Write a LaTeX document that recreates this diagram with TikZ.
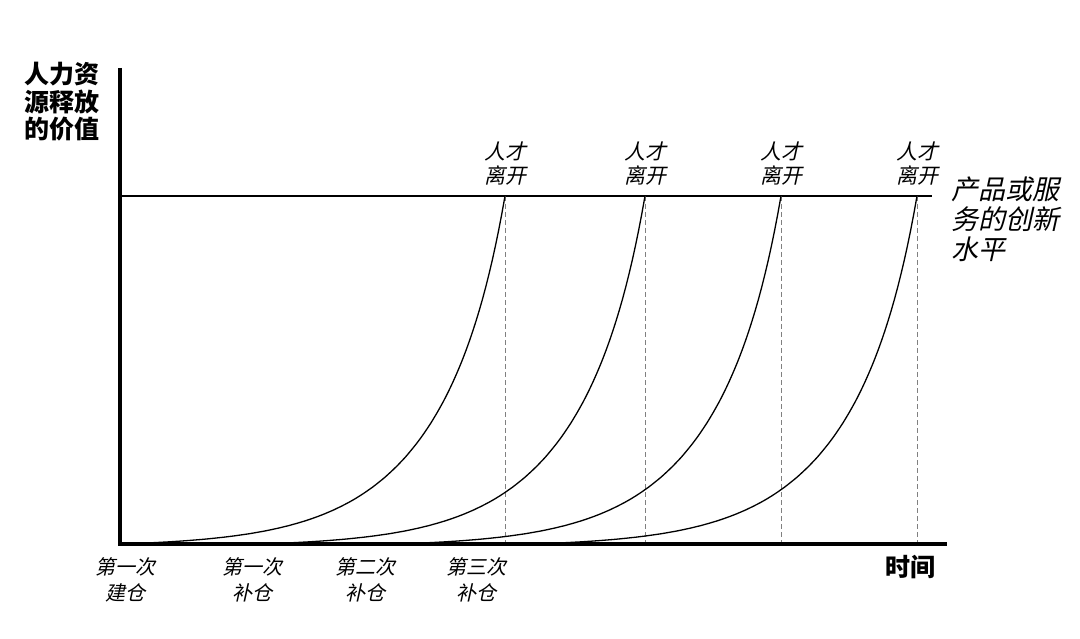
\documentclass[tikz,border=0pt]{standalone}
\usepackage{fontspec}
\newfontfamily\cjk{Noto Sans CJK SC}
\newfontfamily\cjkit{Noto Sans CJK SC}[FakeSlant=0.22]
\begin{document}
\begin{tikzpicture}[x=1pt,y=-1pt,
  axis/.style={line width=3.6pt},
  level/.style={line width=1.3pt},
  curve/.style={line width=1.3pt},
  guide/.style={gray,line width=0.9pt,dash pattern=on 5pt off 3pt},
  lbl/.style={inner sep=0pt,align=center},
  boldlbl/.style={lbl,font=\cjk\bfseries\fontsize{25}{27.5}\selectfont},
  leave/.style={lbl,font=\cjkit\fontsize{21}{24}\selectfont},
  buy/.style={lbl,font=\cjkit\fontsize{20}{26}\selectfont},
  innov/.style={inner sep=0pt,align=left,font=\cjkit\fontsize{27}{30}\selectfont}]
\useasboundingbox (0,0) rectangle (1080,639);
\coordinate (O) at (120,544);
\coordinate (Ytop) at (120,68);
\coordinate (Xend) at (947,544);
\coordinate (Lstart) at (120,196);
\coordinate (Lend) at (932,196);
% level line
\draw[level] (Lstart) -- (Lend);
% dashed guides and curves
\foreach \e/\n in {505/a,645/b,781/c,917/d}{
  \coordinate (top\n) at (\e,196);
  \coordinate (bot\n) at (\e,544);
  \draw[guide] (top\n) -- (bot\n);
  \draw[curve] plot[domain=385:0,samples=120,variable=\d]
    ({\e-\d},{544-(348*exp(-(0.0132+0.0035*exp(-\d/60))*\d)-2.2*\d/385)});
  \node[leave] (leave\n) at (\e,164) {人才\\离开};
}
% axes
\draw[axis] (Ytop) -- (O) -- (Xend);
% labels
\node[boldlbl] (ylab) at (62,102) {人力资\\源释放\\的价值};
\node[boldlbl] (xlab) at (910,567) {时间};
\node[innov,anchor=west] (innov) at (951,219) {产品或服\\务的创新\\水平};
\node[buy] (b0) at (125,580) {第一次\\建仓};
\node[buy] (b1) at (252,580) {第一次\\补仓};
\node[buy] (b2) at (365,580) {第二次\\补仓};
\node[buy] (b3) at (476,580) {第三次\\补仓};
\end{tikzpicture}
\end{document}
